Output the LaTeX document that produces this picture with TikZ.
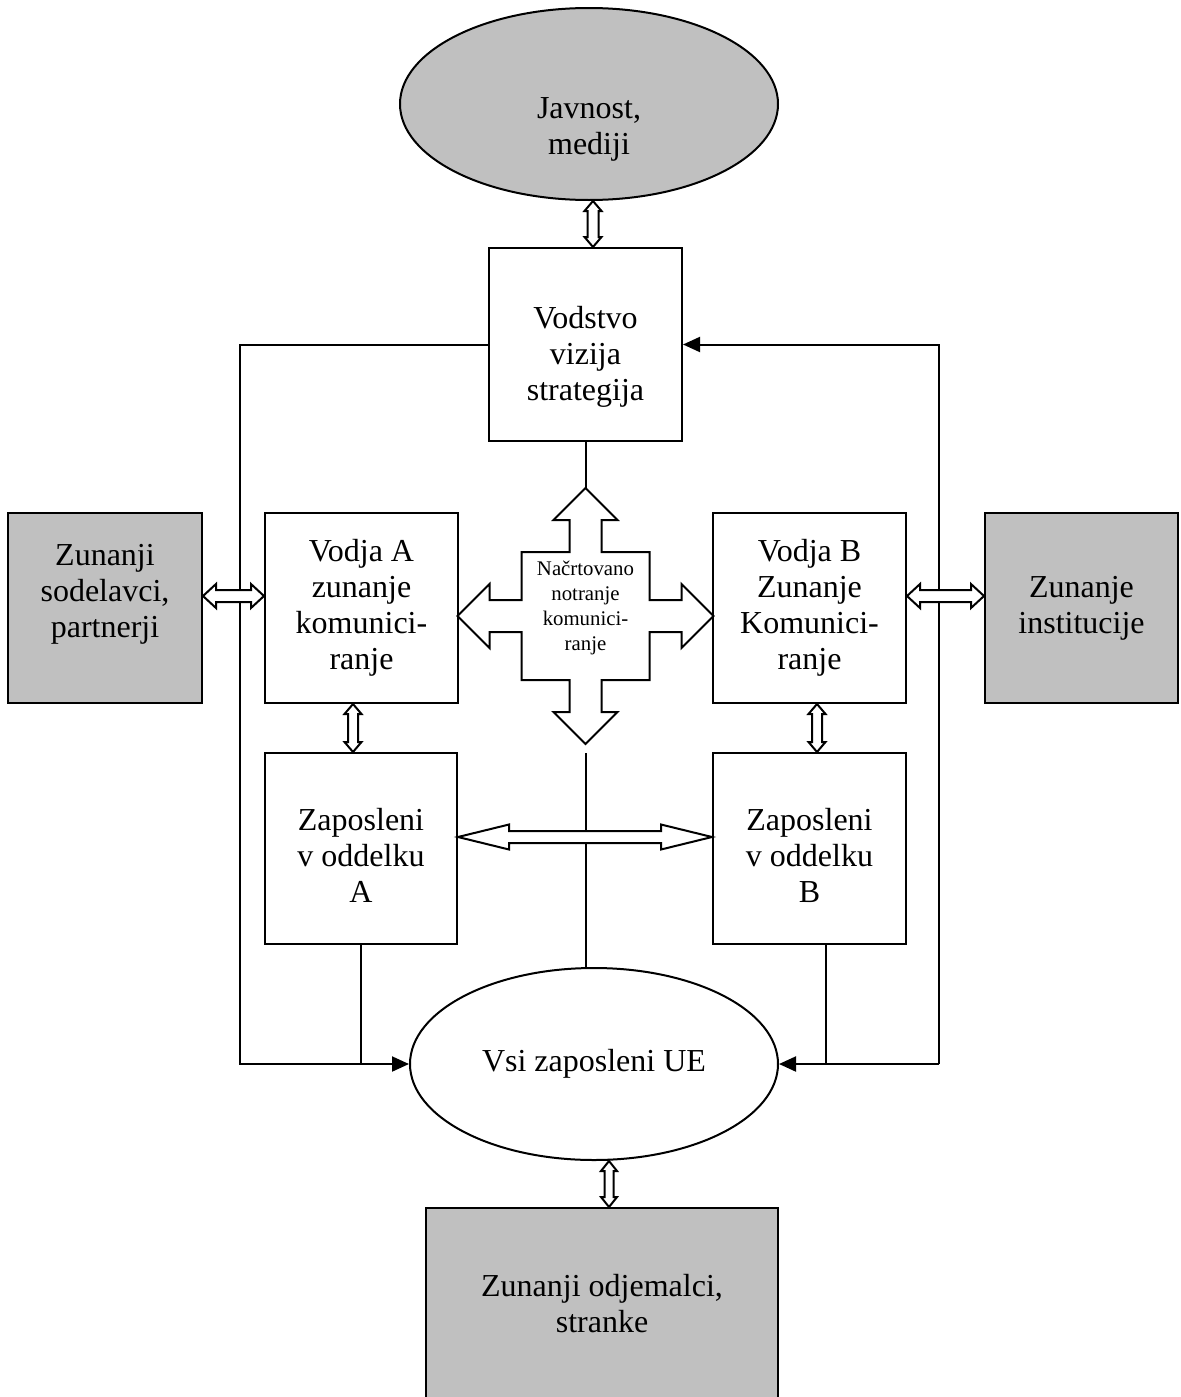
\documentclass[tikz,border=0pt]{standalone}
\usepackage{fontspec}
\setmainfont{Liberation Serif}
\usetikzlibrary{shapes.geometric,arrows.meta,calc}
\definecolor{boxgray}{RGB}{192,192,192}

% Outlined double-headed block arrow from #1 to #2:
% #3 shaft half-width, #4 head half-width, #5 head length
\newcommand\blockarrow[5]{%
  \draw[blockarr] let \p1=(#1), \p2=(#2),
      \n1={veclen(\x2-\x1,\y2-\y1)}, \n2={atan2(\y2-\y1,\x2-\x1)} in
    [shift={(\p1)}, rotate=\n2]
    (0,0) -- (#5,#4) -- (#5,#3) -- ({\n1*1pt-#5},#3) -- ({\n1*1pt-#5},#4)
    -- ({\n1*1pt},0) -- ({\n1*1pt-#5},-#4) -- ({\n1*1pt-#5},-#3)
    -- (#5,-#3) -- (#5,-#4) -- cycle;}

\begin{document}
\begin{tikzpicture}[x=0.5pt,y=-0.5pt,line width=1pt,
  box/.style={draw,rectangle,inner sep=0pt,align=center,
    font=\fontsize{16}{18}\selectfont,minimum width=96.5pt,minimum height=95pt},
  grey/.style={fill=boxgray},
  oval/.style={draw,ellipse,inner sep=0pt,align=center,
    font=\fontsize{16}{18}\selectfont},
  label text/.style={inner sep=0pt,align=center,font=\fontsize{16}{18}\selectfont},
  small text/.style={inner sep=0pt,align=center,font=\fontsize{10.4}{12.5}\selectfont},
  blockarr/.style={draw,fill=white,line join=miter},
  tip/.style={-{Triangle[length=8.5pt,width=7.5pt]}}]

\clip (0,0) rectangle (1180,1397);

% nodes
\node[oval,fill=boxgray,minimum width=189pt,minimum height=96pt] (javnost) at (589,104) {};
\node[label text] (javnosttext) at (589,129) {Javnost,\\mediji};
\node[box,minimum height=96.5pt] (vodstvo) at (585.5,344.5) {};
\node[label text] (vodstvotext) at ([yshift=-6pt]vodstvo.center) {Vodstvo\\vizija\\strategija};
\node[box,grey,minimum width=97pt] (sodelavci) at (105,608) {};
\node[label text] (sodelavcitext) at ([yshift=7pt]sodelavci.center) {Zunanji\\sodelavci,\\partnerji};
\node[box] (vodjaA) at (361.5,608) {Vodja A\\zunanje\\komunici-\\ranje};
\node[box] (vodjaB) at (809.5,608) {Vodja B\\Zunanje\\Komunici-\\ranje};
\node[box,grey] (institucije) at (1081.5,608) {Zunanje\\institucije};
\node[box,minimum width=96pt,minimum height=95.5pt] (zapA) at (361,848.5) {};
\node[label text] (zapAtext) at ([yshift=-3.5pt]zapA.center) {Zaposleni\\v oddelku\\A};
\node[box,minimum height=95.5pt] (zapB) at (809.5,848.5) {};
\node[label text] (zapBtext) at ([yshift=-3.5pt]zapB.center) {Zaposleni\\v oddelku\\B};
\node[oval,minimum width=184pt,minimum height=96pt] (vsi) at (594,1064) {Vsi zaposleni UE};
\node[box,grey,minimum width=176pt,minimum height=96pt] (odjemalci) at (602,1304) {Zunanji odjemalci,\\stranke};

% central four-way arrow
\coordinate (cc) at (585.5,616);
\draw[blockarr,shift={(cc)}]
  (0,-128) -- (32,-96) -- (16,-96) -- (16,-64) -- (64,-64) -- (64,-16)
  -- (96,-16) -- (96,-32) -- (128,0) -- (96,32) -- (96,16) -- (64,16)
  -- (64,64) -- (16,64) -- (16,96) -- (32,96) -- (0,128) -- (-32,96)
  -- (-16,96) -- (-16,64) -- (-64,64) -- (-64,16) -- (-96,16) -- (-96,32)
  -- (-128,0) -- (-96,-32) -- (-96,-16) -- (-64,-16) -- (-64,-64)
  -- (-16,-64) -- (-16,-96) -- (-32,-96) -- cycle;
\node[small text] (plan) at (585.5,608) {Načrtovano\\notranje\\komunici-\\ranje};

% central vertical line
\coordinate (ctop) at (585.5,488);
\coordinate (cgap) at (585.5,753);
\draw (vodstvo.south) -- (ctop);
\draw (cgap) -- (cgap |- vsi.north);

% left loop
\coordinate (lt) at (240,344.5);
\coordinate (lb) at (240,1064);
\draw[tip] (vodstvo.west) -- (lt) -- (lb) -- (vsi.west);
\draw (zapA.south) -- (zapA.south |- lb);

% right loop
\coordinate (rt) at (939,344.5);
\coordinate (rb) at (939,1064);
\coordinate (zb) at (826,944);
\draw[tip] (rb) -- (rt) -- (vodstvo.east);
\draw[tip] (rb) -- (vsi.east);
\draw (zb) -- (zb |- rb);

% block arrows
\blockarrow{javnost.south -| 593,0}{vodstvo.north -| 593,0}{2.75pt}{4.25pt}{5pt}
\blockarrow{[yshift=6pt]sodelavci.east}{[yshift=6pt]vodjaA.west}{3pt}{6pt}{6.5pt}
\blockarrow{[yshift=6pt]vodjaB.east}{[yshift=6pt]institucije.west}{3pt}{6pt}{6.5pt}
\blockarrow{vodjaA.south -| 353,0}{zapA.north -| 353,0}{2.5pt}{4.25pt}{5pt}
\blockarrow{vodjaB.south -| 817,0}{zapB.north -| 817,0}{2.5pt}{4.25pt}{5pt}
\blockarrow{[yshift=5.75pt]zapA.east}{[yshift=5.75pt]zapB.west}{3pt}{6.25pt}{25.5pt}
\blockarrow{vsi.south -| 609,0}{odjemalci.north -| 609,0}{2.25pt}{4pt}{5pt}
\end{tikzpicture}
\end{document}
